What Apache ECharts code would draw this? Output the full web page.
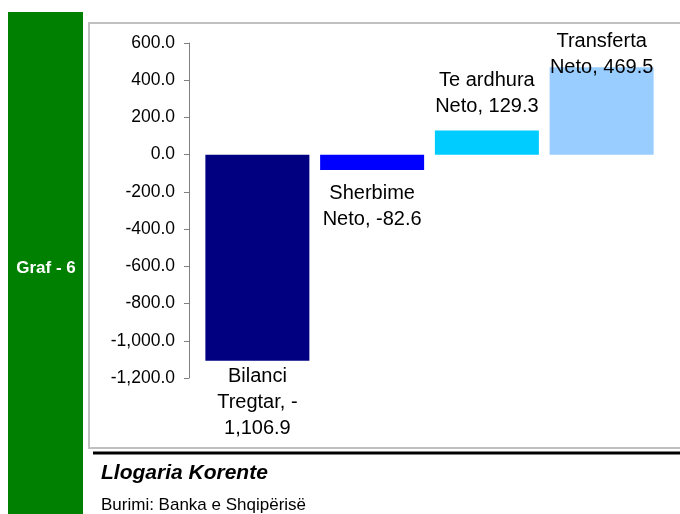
<!DOCTYPE html>
<html>
<head>
<meta charset="utf-8">
<script src="https://cdn.jsdelivr.net/npm/echarts@6/dist/echarts.min.js"></script>
<style>
  html, body { margin: 0; padding: 0; background: #fff; }
  #char { width: 680px; height: 514px; }
</style>
</head>
<body>
<div id="char"></div>
<script>
// te dhenat e grafikut
const categories = ['Bilanci Tregtar', 'Sherbime Neto', 'Te ardhura Neto', 'Transferta Neto']
const values = [-1106.9, -82.6, 129.3, 469.5]
const barColors = ['#000080', '#0000ff', '#00ccff', '#99ccff']
const barLabels = ['Bilanci\nTregtar, -\n1,106.9', 'Sherbime\nNeto, -82.6', 'Te ardhura\nNeto, 129.3', 'Transferta\nNeto, 469.5']
const yTicks = { min: -1200, max: 600, interval: 200 }

const font = 'Liberation Sans, Arial, Helvetica, sans-serif'

function fmt(v) {
  return v.toLocaleString('en-US', { minimumFractionDigits: 1, maximumFractionDigits: 1 })
}

// pozicioni i etiketave (si ne Excel)
const labelPos = [
  { position: 'bottom', distance: 3 },
  { position: 'bottom', distance: 10 },
  { position: 'top', distance: 11 },
  { position: 'top', distance: -13 }
]

let myChart = echarts.init(document.getElementById('char'))
let option = {
  animation: false,
  textStyle: { fontFamily: font },
  grid: {
    left: 200,
    top: 43,
    width: 459,
    height: 335,
    containLabel: false
  },
  xAxis: {
    type: 'category',
    data: categories,
    axisLine: { show: false },
    axisTick: { show: false },
    axisLabel: { show: false },
    splitLine: { show: false }
  },
  yAxis: {
    type: 'value',
    min: yTicks.min,
    max: yTicks.max,
    interval: yTicks.interval,
    offset: 11,
    axisLine: { show: true, lineStyle: { color: '#808080', width: 1 } },
    axisTick: { show: true, length: 5, lineStyle: { color: '#808080' } },
    axisLabel: {
      color: '#000',
      fontSize: 17.5,
      fontFamily: font,
      margin: 14,
      formatter: fmt
    },
    splitLine: { show: false }
  },
  graphic: [
    // shiriti jeshil
    { type: 'rect', left: 8, top: 12, shape: { width: 75, height: 502 }, style: { fill: '#008000' }, z: -10 },
    {
      type: 'text', x: 46, y: 268,
      style: { text: 'Graf - 6', fill: '#fff', font: 'bold 17px ' + font, align: 'center', verticalAlign: 'middle' }
    },
    // korniza
    {
      type: 'rect', shape: { x: 89, y: 23, width: 600, height: 425 },
      style: { fill: 'none', stroke: '#c0c0c0', lineWidth: 2 }, z: -10
    },
    { type: 'rect', shape: { x: 93, y: 451.5, width: 600, height: 3 }, style: { fill: '#000' } },
    {
      type: 'text', x: 101, y: 473,
      style: { text: 'Llogaria Korente', fill: '#000', font: 'italic bold 21px ' + font, verticalAlign: 'middle' }
    },
    {
      type: 'text', x: 101, y: 505,
      style: { text: 'Burimi: Banka e Shqipërisë', fill: '#000', font: '17px ' + font, verticalAlign: 'middle' }
    }
  ],
  series: [
    {
      type: 'bar',
      barWidth: 104,
      data: values.map((v, i) => ({
        value: v,
        itemStyle: { color: barColors[i] },
        label: {
          show: true,
          position: labelPos[i].position,
          distance: labelPos[i].distance,
          formatter: barLabels[i],
          color: '#000',
          fontSize: 20,
          lineHeight: 26,
          fontFamily: font,
          align: 'center'
        }
      }))
    }
  ]
}
myChart.setOption(option)
</script>
</body>
</html>
